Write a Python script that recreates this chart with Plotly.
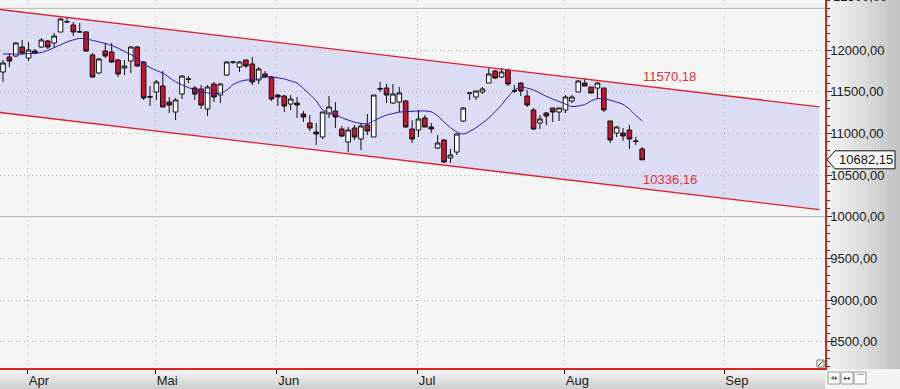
import plotly.graph_objects as go

# ---------------- data ----------------
# trading-day index of every candle (late March .. 19 August)
day_index = list(range(101))

opens = [11736, 11916, 11928, 12036, 11904, 11988, 12036, 12108, 12084, 12216,
         12336, 12300, 12220, 12216, 11940, 11724, 11988, 11976, 11880, 11784,
         11868, 12036, 11856, 11440, 11496, 11568, 11376, 11256, 11472, 11648,
         11544, 11532, 11292, 11592, 11460, 11700, 11852, 11796, 11880, 11832,
         11640, 11712, 11676, 11460, 11448, 11352, 11364, 11232, 11124, 11016,
         10956, 11232, 11268, 11052, 10896, 11064, 10932, 11100, 10956, 11536,
         11544, 11364, 11376, 11388, 11052, 11040, 11184, 11076, 10824, 10920,
         10704, 10776, 11148, 11480, 11436, 11496, 11604, 11748, 11676, 11760,
         11512, 11604, 11448, 11280, 11124, 11244, 11304, 11256, 11280, 11388,
         11496, 11604, 11556, 11544, 11544, 11148, 11004, 11004, 11040, 10908,
         10812]
highs = [11880, 11964, 12096, 12120, 12096, 12012, 12144, 12120, 12204, 12384,
         12384, 12336, 12324, 12228, 11964, 11904, 12084, 12084, 11892, 11880,
         12048, 12048, 11868, 11568, 11640, 11748, 11436, 11424, 11700, 11688,
         11568, 11580, 11580, 11616, 11604, 11868, 11868, 11868, 11880, 11916,
         11796, 11748, 11688, 11472, 11460, 11460, 11436, 11268, 11220, 11124,
         11256, 11448, 11376, 11088, 11076, 11100, 11124, 11232, 11460, 11616,
         11592, 11592, 11556, 11400, 11160, 11280, 11220, 11124, 10980, 10932,
         10812, 10992, 11316, 11496, 11508, 11556, 11784, 11760, 11784, 11772,
         11580, 11616, 11520, 11304, 11220, 11256, 11304, 11304, 11460, 11460,
         11640, 11664, 11556, 11616, 11544, 11148, 11088, 11064, 11100, 10956,
         10836]
lows = [11616, 11796, 11916, 11940, 11868, 11952, 12024, 12012, 12036, 12216,
        12324, 12168, 12212, 11976, 11664, 11712, 11904, 11844, 11676, 11700,
        11724, 11796, 11400, 11328, 11400, 11316, 11244, 11160, 11412, 11604,
        11400, 11292, 11208, 11376, 11364, 11688, 11832, 11736, 11784, 11580,
        11592, 11664, 11388, 11328, 11256, 11280, 11184, 11136, 11028, 10860,
        10932, 11184, 11064, 10956, 10776, 10920, 10800, 10980, 10956, 11496,
        11364, 11352, 11256, 11064, 10884, 10956, 11076, 11004, 10812, 10644,
        10644, 10740, 11136, 11400, 11400, 11472, 11604, 11652, 11664, 11568,
        11484, 11448, 11316, 11040, 11052, 11100, 11136, 11148, 11244, 11364,
        11496, 11568, 11484, 11412, 11256, 10884, 10956, 10908, 10812, 10860,
        10682.15]
closes = [11844, 11868, 12084, 11964, 12000, 11964, 12120, 12036, 12168, 12372,
          12340, 12216, 12216, 11988, 11676, 11892, 11928, 11856, 11712, 11808,
          12036, 11808, 11424, 11436, 11616, 11316, 11340, 11400, 11688, 11652,
          11472, 11340, 11556, 11436, 11592, 11856, 11856, 11856, 11808, 11616,
          11772, 11676, 11412, 11436, 11328, 11412, 11340, 11196, 11064, 10992,
          11256, 11316, 11196, 10968, 11040, 10956, 11088, 11028, 11460, 11532,
          11460, 11472, 11484, 11076, 10932, 11172, 11076, 11052, 10884, 10656,
          10740, 10992, 11304, 11484, 11508, 11532, 11712, 11664, 11736, 11592,
          11508, 11508, 11340, 11052, 11172, 11208, 11256, 11304, 11436, 11436,
          11628, 11568, 11484, 11604, 11280, 10920, 11076, 10968, 10932, 10904,
          10682.15]

# moving average line drawn in the chart
moving_avg = [11952, 11952, 11952, 11952, 11957, 11960, 11970, 11996, 12028, 12062,
              12096, 12121, 12139, 12133, 12115, 12097, 12079, 12054, 12022, 11983,
              11945, 11898, 11834, 11790, 11753, 11723, 11670, 11618, 11581, 11549,
              11521, 11497, 11485, 11480, 11483, 11519, 11585, 11621, 11640, 11640,
              11652, 11680, 11675, 11666, 11653, 11629, 11603, 11537, 11468, 11389,
              11285, 11250, 11219, 11189, 11159, 11134, 11119, 11114, 11150, 11188,
              11219, 11237, 11255, 11260, 11264, 11268, 11268, 11258, 11210, 11134,
              11070, 11016, 10992, 11023, 11068, 11122, 11184, 11261, 11342, 11437,
              11518, 11554, 11543, 11521, 11483, 11444, 11411, 11381, 11351, 11321,
              11329, 11346, 11388, 11416, 11414, 11398, 11374, 11348, 11290, 11215,
              11148]

# trend channel
channel_x = [-0.5, 127.7]
channel_upper = [12486, 11318]
channel_lower = [11250, 10084]
upper_label_value = 11570.18
lower_label_value = 10336.16
label_index = 100
last_price = 10682.15

# axes
month_pos = [3.85, 23.85, 42.85, 64.85, 87.85, 112.8]
month_labels = ["Apr", "Mai", "Jun", "Jul", "Aug", "Sep"]
price_ticks = [8500, 9000, 9500, 10000, 10500, 11000, 11500, 12000]
top_cut_label = 12500
solid_levels = [12500, 10000]
x_range = [-0.47, 128.6]
y_range = [8184, 12600]


def fmt(v):
    return f"{v:.2f}".replace(".", ",")


FONT = "Liberation Sans, Arial, sans-serif"
GRID = "#b4b4b4"
fig = go.Figure()

# channel lines
for arr in (channel_upper, channel_lower):
    fig.add_trace(go.Scatter(x=channel_x, y=arr, mode="lines",
                             line=dict(color="#dc2030", width=1.3),
                             hoverinfo="skip", showlegend=False))

# moving average
fig.add_trace(go.Scatter(x=day_index, y=moving_avg, mode="lines",
                         line=dict(color="#1c1ca8", width=1, shape="spline", smoothing=0.8),
                         hoverinfo="skip", showlegend=False))

# candles
fig.add_trace(go.Candlestick(
    x=day_index, open=opens, high=highs, low=lows, close=closes,
    increasing=dict(fillcolor="#ffffff", line=dict(color="#111111", width=1)),
    decreasing=dict(fillcolor="#c8142f", line=dict(color="#111111", width=1)),
    whiskerwidth=0, showlegend=False))

shapes = []
# channel fill (built from the channel data)
channel_path = (f"M {channel_x[0]},{channel_upper[0]} L {channel_x[1]},{channel_upper[1]} "
                f"L {channel_x[1]},{channel_lower[1]} L {channel_x[0]},{channel_lower[0]} Z")
shapes.append(dict(type="path", xref="x", yref="y", path=channel_path,
                   fillcolor="#dcdcf5", line=dict(width=0), layer="below"))
# solid reference levels
for lv in solid_levels:
    shapes.append(dict(type="line", xref="x domain", yref="y", x0=0, x1=1, y0=lv, y1=lv,
                       line=dict(color="#b2b2b2", width=1), layer="below"))

# right axis panel gradient
W_PLOT, H_PLOT = 825.0, 368.0
steps = 25
for k in range(steps):
    c = int(244 - 50 * k / (steps - 1))
    shapes.append(dict(type="rect", xref="paper", yref="paper",
                       x0=1 + (1 + 74 * k / steps) / W_PLOT, x1=1 + (1 + 74 * (k + 1) / steps) / W_PLOT,
                       y0=-1 / H_PLOT, y1=1.0, fillcolor=f"rgb({c},{c},{c})",
                       line=dict(width=0), layer="below"))
# bottom axis panel gradient
vsteps = 10
for k in range(vsteps):
    c = int(244 - 36 * k / (vsteps - 1))
    shapes.append(dict(type="rect", xref="paper", yref="paper",
                       x0=0, x1=1,
                       y0=-(1 + 20 * (k + 1) / vsteps) / H_PLOT, y1=-(1 + 20 * k / vsteps) / H_PLOT,
                       fillcolor=f"rgb({c},{c},{c})", line=dict(width=0), layer="below"))
# bottom-right corner
shapes.append(dict(type="rect", xref="paper", yref="paper",
                   x0=1 + 1 / W_PLOT, x1=1 + 75 / W_PLOT, y0=-21 / H_PLOT, y1=-1 / H_PLOT,
                   fillcolor="#f4f4f4", line=dict(width=0), layer="below"))
for j in range(3):
    shapes.append(dict(type="rect", xref="paper", yref="paper",
                       x0=1 + (3 + 13 * j) / W_PLOT, x1=1 + (15 + 13 * j) / W_PLOT,
                       y0=-16 / H_PLOT, y1=-4 / H_PLOT,
                       fillcolor="#fbfbfb", line=dict(color="#9a9a9a", width=1)))
# small resize box in the plot corner
shapes.append(dict(type="rect", xref="paper", yref="paper",
                   x0=1 - 8 / W_PLOT, x1=1 - 1 / W_PLOT, y0=1 / H_PLOT, y1=8 / H_PLOT,
                   fillcolor="#ffffff", line=dict(color="#707070", width=1)))
shapes.append(dict(type="line", xref="paper", yref="paper",
                   x0=1 - 7 / W_PLOT, x1=1 - 2 / W_PLOT, y0=2 / H_PLOT, y1=7 / H_PLOT,
                   line=dict(color="#404040", width=1)))
# price tag outline
shapes.append(dict(type="path", xref="paper", yref="y", xsizemode="pixel", ysizemode="pixel",
                   xanchor=1, yanchor=last_price,
                   path="M 2,0 L 10,9 L 70,9 L 70,-9 L 10,-9 Z",
                   fillcolor="#f7f7f7", line=dict(color="#111111", width=1)))

annotations = [
    dict(x=label_index, y=upper_label_value, xref="x", yref="y", text=fmt(upper_label_value),
         showarrow=False, xanchor="left", yanchor="bottom", xshift=-1,
         font=dict(family=FONT, size=13, color="#e0303a")),
    dict(x=label_index, y=lower_label_value, xref="x", yref="y", text=fmt(lower_label_value),
         showarrow=False, xanchor="left", yanchor="bottom", xshift=-1,
         font=dict(family=FONT, size=13, color="#e0303a")),
    dict(x=1, y=last_price, xref="paper", yref="y", text=fmt(last_price),
         showarrow=False, xanchor="left", yanchor="middle", xshift=12,
         font=dict(family=FONT, size=13, color="#111111")),
    # top axis label, mostly outside the window as in the reference
    dict(x=1, y=1, xref="paper", yref="paper", text=fmt(top_cut_label),
         showarrow=False, xanchor="left", yanchor="bottom", xshift=6, yshift=-6,
         font=dict(family=FONT, size=13, color="#1a1a1a")),
]
icons = ["⇸", "↔", "⌒"]
for j, t in enumerate(icons):
    annotations.append(dict(x=1 + (9 + 13 * j) / W_PLOT, y=-10 / H_PLOT, xref="paper", yref="paper",
                            text=t, showarrow=False, xanchor="center", yanchor="middle",
                            font=dict(family="DejaVu Sans", size=9, color="#333333")))

fig.update_layout(
    width=900, height=389,
    margin=dict(l=0, r=75, t=0, b=21, pad=0, autoexpand=False),
    paper_bgcolor="#f0f0f0",
    plot_bgcolor="#f5f5f5",
    separators=",.",
    showlegend=False,
    boxgap=0.1, boxgroupgap=0.2,
    shapes=shapes,
    annotations=annotations,
    font=dict(family=FONT, size=13, color="#1a1a1a"),
    xaxis=dict(range=x_range, rangeslider=dict(visible=False),
               tickmode="array", tickvals=month_pos, ticktext=month_labels,
               ticks="outside", ticklen=4, tickcolor="#222222", ticklabelposition="outside right",
               showgrid=True, gridcolor=GRID, griddash="1px,3px", gridwidth=1,
               showline=True, linecolor="#d42424", linewidth=1.5, zeroline=False,
               tickfont=dict(size=13, color="#1a1a1a"), fixedrange=True, automargin=False),
    yaxis=dict(range=y_range, side="right",
               tickmode="array", tickvals=price_ticks, tickformat=".2f",
               ticks="outside", ticklen=5, tickcolor="#333333", ticklabelstandoff=-4,
               minor=dict(tickmode="linear", tick0=0, dtick=100, ticks="outside", ticklen=3,
                          tickcolor="#333333", showgrid=False),
               showgrid=True, gridcolor=GRID, griddash="1px,3px", gridwidth=1,
               showline=True, linecolor="#d42424", linewidth=1.5, zeroline=False,
               tickfont=dict(size=13, color="#1a1a1a"), fixedrange=True, automargin=False),
)

fig.write_html("out.html", config={"displayModeBar": False},
               post_script="document.body.style.margin='0';document.body.style.overflow='hidden';")
